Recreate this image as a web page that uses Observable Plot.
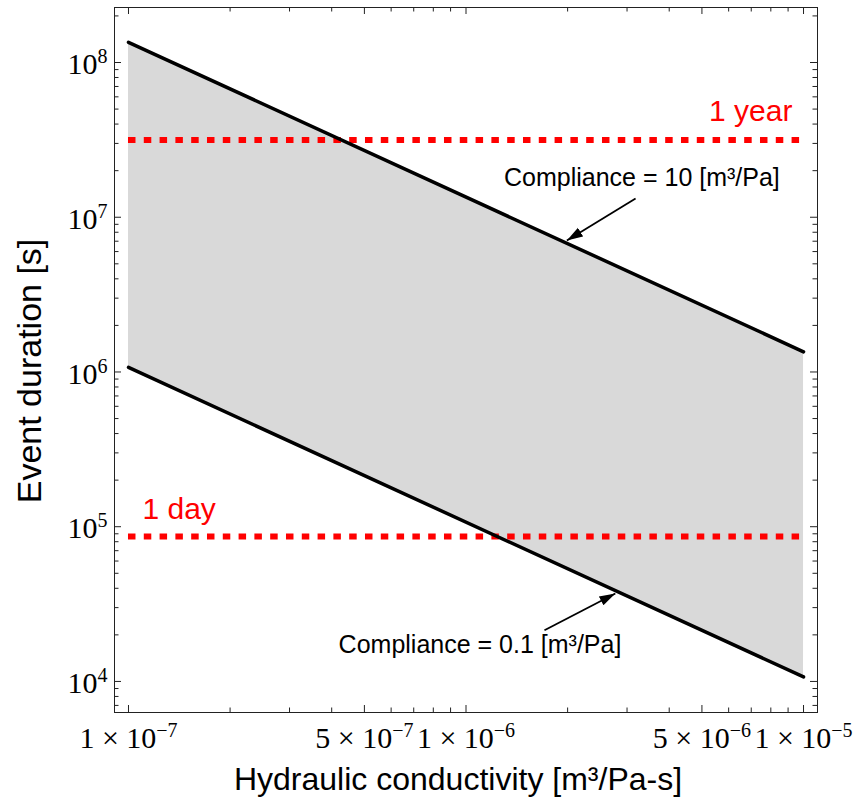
<!DOCTYPE html>
<html><head><meta charset="utf-8">
<script src="https://cdn.jsdelivr.net/npm/d3@7"></script>
<script src="https://cdn.jsdelivr.net/npm/@observablehq/plot@0.6"></script>
<style>body{margin:0;background:#fff}#chart{width:859px;height:812px}</style>
</head><body><div id="chart"></div>
<script>
// ---- data ----
const conductivity = [1e-7, 1e-5];                 // m³/Pa-s
const durationCompliance10 = [1.35e8, 1.35e6];      // s
const durationCompliance01 = [1.07e6, 1.07e4];      // s
const referenceDurations = [31557600, 86400];       // 1 year, 1 day (s)
const referenceNames = ["1 year", "1 day"];
const referenceLabelX = [9.27e-6, 1.10e-7];
const referenceLabelY = [4.82e7, 1.29e5];
const referenceLabelAnchor = ["end", "start"];
const annotationTexts = ["Compliance = 10 [m³/Pa]", "Compliance = 0.1 [m³/Pa]"];
const annotationX = [3.32e-6, 1.10e-6];
const annotationY = [1.78e7, 1.71e4];
const arrowFromX = [3.18e-6, 1.708e-6];
const arrowFromY = [1.32e7, 2.14e4];
const arrowToX = [1.99e-6, 2.77e-6];
const arrowToY = [7.08e6, 3.70e4];
const xTickValues = [1e-7, 5e-7, 1e-6, 5e-6, 1e-5];
const xTickLabels = ["1 × 10^−7", "5 × 10^−7", "1 × 10^−6", "5 × 10^−6", "1 × 10^−5"];
const yTickValues = [1e4, 1e5, 1e6, 1e7, 1e8];
const yTickLabels = ["10^4", "10^5", "10^6", "10^7", "10^8"];
const xDomain = [9.09e-8, 1.10e-5];
const yDomain = [6.30e3, 2.267e8];
const xTitle = "Hydraulic conductivity [m³/Pa-s]";
const yTitle = "Event duration [s]";

// ---- layout ----
const W = 859, H = 812, mL = 114, mR = 42, mT = 7, mB = 100;
const frameW = W - mL - mR, frameH = H - mT - mB;
const majorLen = 7, minorLen = 4.5;

// ---- tables ----
const band = conductivity.map((k, i) => ({k, hi: durationCompliance10[i], lo: durationCompliance01[i]}));
const refs = referenceDurations.map((d, i) => ({d, x1: conductivity[0], x2: conductivity[1], name: referenceNames[i], lx: referenceLabelX[i], ly: referenceLabelY[i], anchor: referenceLabelAnchor[i]}));
const notes = annotationTexts.map((t, i) => ({t, x: annotationX[i], y: annotationY[i], x1: arrowFromX[i], y1: arrowFromY[i], x2: arrowToX[i], y2: arrowToY[i]}));

const xAll = d3.scaleLog().domain(xDomain).ticks();
const yAll = d3.scaleLog().domain(yDomain).ticks();
const isMajorX = v => xTickValues.some(t => Math.abs(t - v) / t < 1e-6);
const isMajorY = v => yTickValues.some(t => Math.abs(t - v) / t < 1e-6);
const xMajor = xAll.filter(isMajorX), xMinor = xAll.filter(v => !isMajorX(v));
const yMajor = yAll.filter(isMajorY), yMinor = yAll.filter(v => !isMajorY(v));

function filledArrow(color) {
  const ns = "http://www.w3.org/2000/svg";
  const m = document.createElementNS(ns, "marker");
  m.setAttribute("viewBox", "-16 -6 16 12");
  m.setAttribute("markerWidth", 16);
  m.setAttribute("markerHeight", 12);
  m.setAttribute("markerUnits", "userSpaceOnUse");
  m.setAttribute("orient", "auto");
  m.setAttribute("refX", 0);
  m.setAttribute("refY", 0);
  const p = document.createElementNS(ns, "path");
  p.setAttribute("d", "M-16,-5L0,0L-16,5Z");
  p.setAttribute("fill", color);
  p.setAttribute("stroke", "none");
  m.appendChild(p);
  return m;
}

const tickStyle = {stroke: "#222", strokeWidth: 1};
const sans = "'Liberation Sans', Arial, Helvetica, sans-serif";
const serif = "'Liberation Serif', 'Times New Roman', serif";

const chart = Plot.plot({
  width: W, height: H,
  marginLeft: mL, marginRight: mR, marginTop: mT, marginBottom: mB,
  style: {background: "#fff", color: "#000"},
  x: {type: "log", domain: xDomain},
  y: {type: "log", domain: yDomain},
  marks: [
    Plot.areaY(band, {x: "k", y1: "lo", y2: "hi", fill: "#d9d9d9"}),
    Plot.ruleY(refs, {y: "d", x1: "x1", x2: "x2", stroke: "#ff0000", strokeWidth: 6, strokeDasharray: "7.5,8.3"}),
    Plot.line(band, {x: "k", y: "hi", stroke: "#000", strokeWidth: 3.5}),
    Plot.line(band, {x: "k", y: "lo", stroke: "#000", strokeWidth: 3.5}),
    Plot.text(refs.filter(r => r.anchor === "end"), {x: "lx", y: "ly", text: "name", textAnchor: "end", fill: "#ff0000", fontSize: 30, fontFamily: sans}),
    Plot.text(refs.filter(r => r.anchor === "start"), {x: "lx", y: "ly", text: "name", textAnchor: "start", fill: "#ff0000", fontSize: 30, fontFamily: sans}),
    Plot.text(notes, {x: "x", y: "y", text: "t", fill: "#000", fontSize: 25, fontFamily: sans}),
    Plot.link(notes, {x1: "x1", y1: "y1", x2: "x2", y2: "y2", stroke: "#000", strokeWidth: 1.8, markerEnd: filledArrow}),
    // inward ticks on all four sides
    Plot.tickY(yMajor, {y: d => d, insetRight: frameW - majorLen, ...tickStyle}),
    Plot.tickY(yMinor, {y: d => d, insetRight: frameW - minorLen, ...tickStyle}),
    Plot.tickY(yMajor, {y: d => d, insetLeft: frameW - majorLen, ...tickStyle}),
    Plot.tickY(yMinor, {y: d => d, insetLeft: frameW - minorLen, ...tickStyle}),
    Plot.tickX(xMajor, {x: d => d, insetTop: frameH - majorLen, ...tickStyle}),
    Plot.tickX(xMinor, {x: d => d, insetTop: frameH - minorLen, ...tickStyle}),
    Plot.tickX(xMajor, {x: d => d, insetBottom: frameH - majorLen, ...tickStyle}),
    Plot.tickX(xMinor, {x: d => d, insetBottom: frameH - minorLen, ...tickStyle}),
    Plot.frame({stroke: "#222", strokeWidth: 1}),
    Plot.axisY({ticks: yTickValues, tickFormat: d => yTickLabels[yTickValues.findIndex(t => Math.abs(t - d) / t < 1e-6)], tickSize: 0, tickPadding: 7, dy: 2, fontSize: 30, fontFamily: serif, label: null}),
    Plot.axisX({ticks: xTickValues, tickFormat: d => xTickLabels[xTickValues.findIndex(t => Math.abs(t - d) / t < 1e-6)], tickSize: 0, tickPadding: 14, fontSize: 30, fontFamily: serif, label: null}),
    Plot.text([xTitle], {frameAnchor: "bottom", textAnchor: "middle", text: d => d, dy: 77, dx: -8, fontSize: 32, fontFamily: sans, fill: "#000"}),
    Plot.text([yTitle], {frameAnchor: "left", textAnchor: "middle", text: d => d, rotate: -90, dx: -84, dy: 11, fontSize: 34, fontFamily: sans, fill: "#000"})
  ]
});

// superscripts as real text (tspans)
const ns = "http://www.w3.org/2000/svg";
chart.querySelectorAll("text").forEach(t => {
  const s = t.textContent;
  if (!s.includes("^")) return;
  const [base, sup] = s.split("^");
  while (t.firstChild) t.removeChild(t.firstChild);
  const a = document.createElementNS(ns, "tspan");
  a.textContent = base;
  t.appendChild(a);
  const b = document.createElementNS(ns, "tspan");
  b.textContent = sup;
  b.setAttribute("font-size", "20");
  b.setAttribute("dy", "-11");
  t.appendChild(b);
});

document.getElementById("chart").appendChild(chart);
</script>
</body></html>
